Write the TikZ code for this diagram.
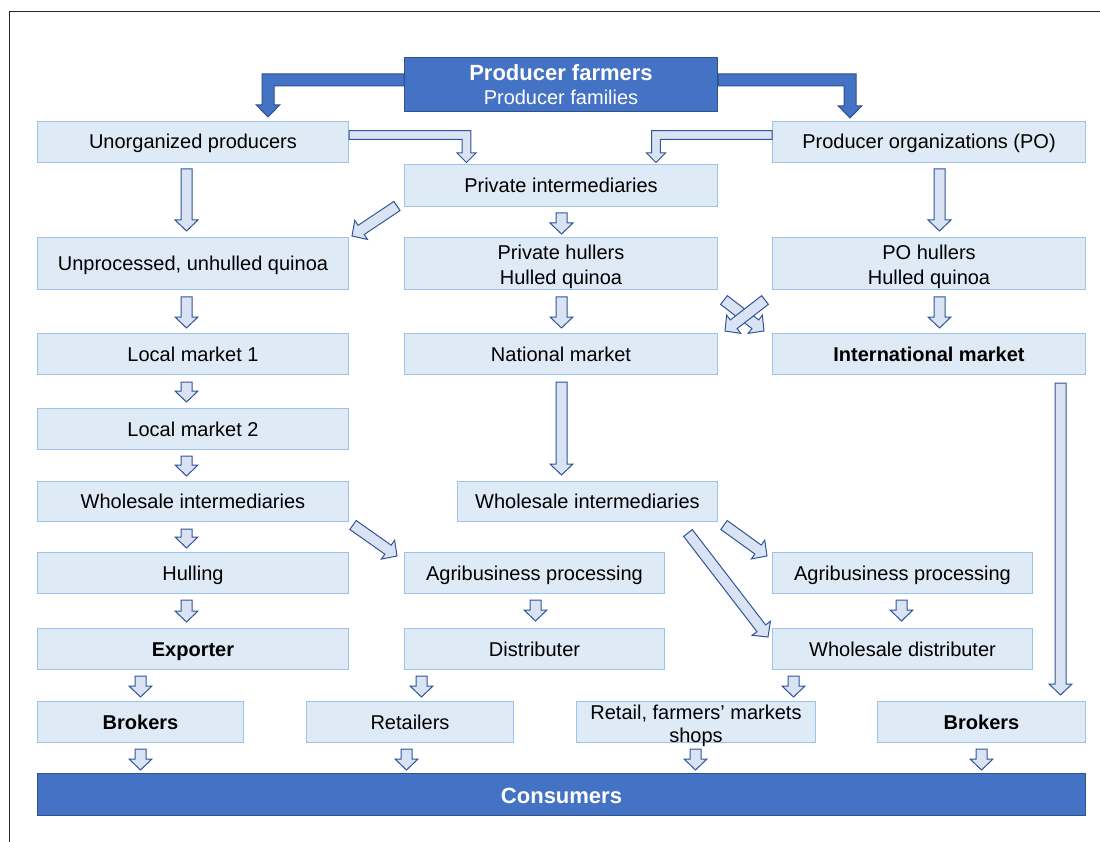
\documentclass[tikz,border=0pt]{standalone}
\usepackage{fontspec}
\setmainfont{Liberation Sans}
\usetikzlibrary{calc}

\definecolor{darkfill}{HTML}{4472C4}
\definecolor{darkline}{HTML}{2F528F}
\definecolor{boxfill}{HTML}{DEEAF6}
\definecolor{boxline}{HTML}{9DC3E6}
\definecolor{arrfill}{HTML}{DAE3F3}
\definecolor{arrline}{HTML}{2F5597}

% block arrow geometry: shaft half width, head half width, head length (pt)
\def\bkS{5.5}\def\bkW{11.5}\def\bkL{11}

\tikzset{
  bkshaft/.store in=\bkS,
  bkhead/.store in=\bkW,
  bklen/.store in=\bkL,
  box/.style={draw=boxline, fill=boxfill, line width=1pt, inner sep=0pt,
    anchor=north west, align=center, font=\fontsize{20}{24}\selectfont},
  sbox/.style={box, text height=18pt, text depth=4pt},
  twoline/.style={box, font=\fontsize{20}{25}\selectfont, text height=46.6pt},
  darkbox/.style={box, draw=darkline, fill=darkfill, text=white},
  flowarrow/.style={fill=arrfill, draw=arrline, line width=1pt, line join=miter},
  darkarrow/.style={fill=darkfill, draw=darkline, line width=1pt, line join=miter},
}

% straight block arrow from #2 (tail) to #3 (tip)
\newcommand{\blockarrow}[3][]{%
  \begin{scope}[#1]
    \coordinate (bkA) at #2;
    \coordinate (bkB) at #3;
    \coordinate (bkH) at ($(bkB)!\bkL pt!(bkA)$);
    \filldraw[flowarrow,#1]
      ($(bkA)!\bkS pt!90:(bkB)$) -- ($(bkH)!\bkS pt!90:(bkB)$) --
      ($(bkH)!\bkW pt!90:(bkB)$) -- (bkB) --
      ($(bkH)!\bkW pt!-90:(bkB)$) -- ($(bkH)!\bkS pt!-90:(bkB)$) --
      ($(bkA)!\bkS pt!-90:(bkB)$) -- cycle;
  \end{scope}}

% elbow block arrow: horizontal from #2, then down to the tip #3;
% #4 = 1 when heading right, -1 when heading left
\newcommand{\bentarrow}[4][]{%
  \begin{scope}[#1]
    \coordinate (bnS) at #2;
    \coordinate (bnT) at #3;
    \coordinate (bnC) at (bnT |- bnS);
    \filldraw[flowarrow,#1]
      ($(bnS)+(0,-\bkS)$) -- ($(bnC)+({(#4)*\bkS},-\bkS)$) --
      ($(bnT)+({(#4)*\bkS},-\bkL)$) -- ($(bnT)+({(#4)*\bkW},-\bkL)$) --
      (bnT) --
      ($(bnT)+({-(#4)*\bkW},-\bkL)$) -- ($(bnT)+({-(#4)*\bkS},-\bkL)$) --
      ($(bnC)+({-(#4)*\bkS},\bkS)$) -- ($(bnS)+(0,\bkS)$) -- cycle;
  \end{scope}}

\begin{document}
\begin{tikzpicture}[x=1pt,y=-1pt]
\useasboundingbox (0,0) rectangle (1100,842);

% outer frame
\draw[line width=1.2pt, black!85] (9.5,842) -- (9.5,11.5) -- (1100,11.5);

% top
\node[darkbox, minimum width=313pt, minimum height=54pt] (prod) at (404,57)
  {{\fontsize{22}{26}\selectfont\bfseries Producer farmers}\\Producer families};
\node[sbox, minimum width=311pt, minimum height=41pt] (unorg) at (37,121) {Unorganized producers};
\node[sbox, minimum width=313pt, minimum height=41pt] (po) at (772,121) {Producer organizations (PO)};
\node[sbox, minimum width=313pt, minimum height=42pt] (privint) at (404,164) {Private intermediaries};

% hulling level
\node[sbox, minimum width=311pt, minimum height=52pt] (unproc) at (37,237) {Unprocessed, unhulled quinoa};
\node[twoline, minimum width=313pt, minimum height=52pt] (privhull) at (404,237) {Private hullers\\Hulled quinoa};
\node[twoline, minimum width=313pt, minimum height=52pt] (pohull) at (772,237) {PO hullers\\Hulled quinoa};

% markets
\node[sbox, minimum width=311pt, minimum height=41pt] (local1) at (37,333) {Local market 1};
\node[sbox, minimum width=313pt, minimum height=41pt] (national) at (404,333) {National market};
\node[sbox, minimum width=313pt, minimum height=41pt] (intl) at (772,333) {\bfseries International market};
\node[sbox, minimum width=311pt, minimum height=41pt] (local2) at (37,408) {Local market 2};

% wholesale and processing
\node[sbox, minimum width=311pt, minimum height=40pt] (wholeL) at (37,481) {Wholesale intermediaries};
\node[sbox, minimum width=260pt, minimum height=40pt] (wholeM) at (457,481) {Wholesale intermediaries};
\node[sbox, minimum width=311pt, minimum height=41pt] (hulling) at (37,552) {Hulling};
\node[sbox, minimum width=260pt, minimum height=41pt] (agriM) at (404,552) {Agribusiness processing};
\node[sbox, minimum width=260pt, minimum height=41pt] (agriR) at (772,552) {Agribusiness processing};
\node[sbox, minimum width=311pt, minimum height=41pt] (exporter) at (37,628) {\bfseries Exporter};
\node[sbox, minimum width=260pt, minimum height=41pt] (distrib) at (404,628) {Distributer};
\node[sbox, minimum width=260pt, minimum height=41pt] (wholedist) at (772,628) {Wholesale distributer};

% final sellers
\node[sbox, minimum width=206pt, minimum height=41pt] (brokL) at (37,701) {\bfseries Brokers};
\node[sbox, minimum width=207pt, minimum height=41pt] (retailers) at (306,701) {Retailers};
\node[box, minimum width=239pt, minimum height=41pt, font=\fontsize{20}{23}\selectfont,
  text height=41pt, text depth=0pt] (retail) at (576,701)
  {Retail, farmers’ markets\\shops};
\node[sbox, minimum width=208pt, minimum height=41pt] (brokR) at (877,701) {\bfseries Brokers};

\node[darkbox, minimum width=1048pt, minimum height=42pt, text height=18pt, text depth=0pt,
  font=\fontsize{22}{26}\selectfont\bfseries] (cons) at (37,773) {Consumers};

% producer farmers split
\bentarrow[darkarrow,bkshaft=6,bkhead=11.7,bklen=12]{($(prod.north west)+(0,23)$)}{($(unorg.north west)+(231,-4)$)}{-1}
\bentarrow[darkarrow,bkshaft=6,bkhead=11.7,bklen=12]{($(prod.north east)+(0,23)$)}{($(po.north west)+(78,-3)$)}{1}

% into private intermediaries
\bentarrow[bkshaft=4.3,bkhead=9.5,bklen=9.5]{($(unorg.north east)+(0,14)$)}{($(privint.north west)+(62.5,-1.5)$)}{1}
\bentarrow[bkshaft=4.3,bkhead=9.5,bklen=9.5]{($(po.north west)+(0,14)$)}{($(privint.north west)+(252,-1.5)$)}{-1}

% vertical flows
\blockarrow{($(unorg.south)+(-6.5,6)$)}{($(unproc.north)+(-6.5,-6)$)}
\blockarrow{($(privint.south)+(0.5,6)$)}{($(privhull.north)+(0.5,-3)$)}
\blockarrow{($(po.south)+(10.5,6)$)}{($(pohull.north)+(10.5,-6)$)}
\blockarrow{($(unproc.south)+(-6.5,7)$)}{($(local1.north)+(-6.5,-5)$)}
\blockarrow{($(privhull.south)+(0.5,7)$)}{($(national.north)+(0.5,-5)$)}
\blockarrow{($(pohull.south)+(10.5,7)$)}{($(intl.north)+(10.5,-5)$)}
\blockarrow{($(local1.south)+(-6.5,7)$)}{($(local2.north)+(-6.5,-6)$)}
\blockarrow{($(national.south)+(0.5,7)$)}{($(wholeM.north)+(-26,-6)$)}
\blockarrow{($(intl.south)+(131.5,8)$)}{($(brokR.north)+(79,-6)$)}
\blockarrow{($(local2.south)+(-6.5,6)$)}{($(wholeL.north)+(-6.5,-5)$)}
\blockarrow{($(wholeL.south)+(-6.5,7)$)}{($(hulling.north)+(-6.5,-4)$)}
\blockarrow{($(hulling.south)+(-6.5,6)$)}{($(exporter.north)+(-6.5,-6)$)}
\blockarrow{($(agriM.south)+(1,6)$)}{($(distrib.north)+(1,-7)$)}
\blockarrow{($(agriR.south)+(-1,6)$)}{($(wholedist.north)+(-1,-7)$)}
\blockarrow{($(exporter.south)+(-52.5,6)$)}{($(brokL.north)+(0,-4)$)}
\blockarrow{($(distrib.south)+(-113,6)$)}{($(retailers.north)+(11.5,-4)$)}
\blockarrow{($(wholedist.south)+(-109,6)$)}{($(retail.north)+(97.5,-4)$)}
\blockarrow{($(brokL.south)+(0,6)$)}{($(brokL.south |- cons.north)+(0,-3)$)}
\blockarrow{($(retailers.south)+(-3.5,6)$)}{($(retailers.south |- cons.north)+(-3.5,-3)$)}
\blockarrow{($(retail.south)+(-0.5,6)$)}{($(retail.south |- cons.north)+(-0.5,-3)$)}
\blockarrow{($(brokR.south)+(0,6)$)}{($(brokR.south |- cons.north)+(0,-3)$)}

% diagonal flows
\blockarrow{($(privint.south west)+(-7,-1)$)}{($(unproc.north east)+(3,-1)$)}
\blockarrow{($(privhull.south east)+(6,10)$)}{($(intl.north west)+(-8,-2)$)}
\blockarrow{($(pohull.south west)+(-7,10)$)}{($(national.north east)+(7,-2)$)}
\blockarrow{($(wholeL.south east)+(4,3)$)}{($(agriM.north west)+(-7,4)$)}
\blockarrow{($(wholeM.south east)+(6,3)$)}{($(agriR.north west)+(-5,4)$)}
\blockarrow{($(wholeM.south east)+(-30,11)$)}{($(wholedist.north west)+(-4,9)$)}

\end{tikzpicture}
\end{document}
